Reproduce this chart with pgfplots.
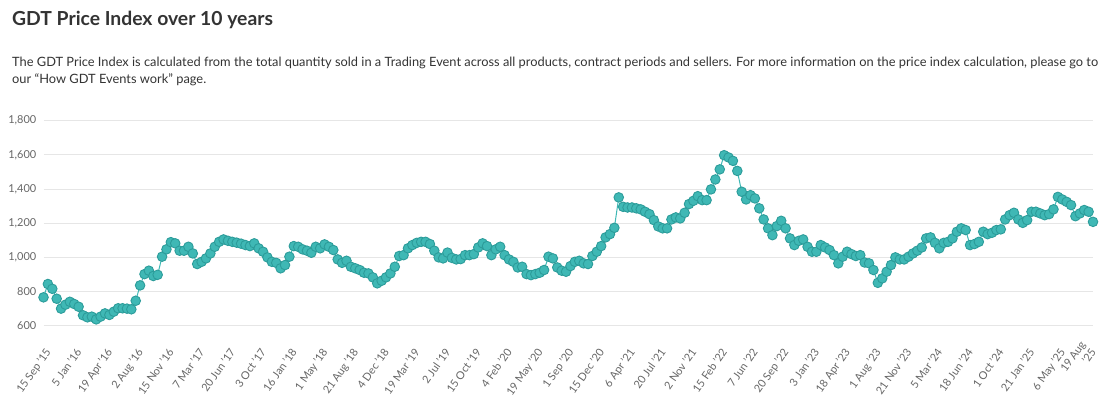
\documentclass[border=0pt]{standalone}
\usepackage{fontspec}
\setmainfont{Lato}
\usepackage{pgfplots}
\pgfplotsset{compat=1.18}
\usepackage{pgfplotstable}
\definecolor{tealfill}{HTML}{3FB8B5}
\definecolor{tealdraw}{HTML}{2C9C9A}
\definecolor{gridc}{HTML}{E6E6E6}
\definecolor{lab}{HTML}{666666}
\definecolor{txt}{HTML}{333333}

\pgfplotstableread{
i v
0 766
1 844
2 816
3 758
4 700
5 723
6 740
7 727
8 711
9 661
10 649
11 653
12 637
13 653
14 672
15 663
16 682
17 702
18 702
19 700
20 696
21 746
22 836
23 902
24 922
25 891
26 898
27 1004
28 1047
29 1089
30 1082
31 1039
32 1039
33 1062
34 1023
35 961
36 974
37 994
38 1023
39 1062
40 1091
41 1105
42 1097
43 1091
44 1086
45 1080
46 1072
47 1066
48 1082
49 1053
50 1033
51 1000
52 974
53 968
54 936
55 955
56 1004
57 1066
58 1062
59 1047
60 1039
61 1027
62 1062
63 1053
64 1076
65 1062
66 1043
67 988
68 968
69 980
70 945
71 936
72 926
73 910
74 906
75 883
76 848
77 863
78 883
79 906
80 945
81 1008
82 1013
83 1053
84 1072
85 1085
86 1091
87 1091
88 1078
89 1039
90 1000
91 994
92 1028
93 997
94 988
95 990
96 1013
97 1013
98 1019
99 1058
100 1082
101 1066
102 1013
103 1047
104 1062
105 1013
106 988
107 974
108 941
109 945
110 902
111 896
112 902
113 910
114 926
115 1004
116 994
117 941
118 922
119 916
120 949
121 974
122 980
123 965
124 961
125 1008
126 1033
127 1066
128 1117
129 1136
130 1173
131 1351
132 1296
133 1292
134 1292
135 1287
136 1281
137 1267
138 1253
139 1218
140 1181
141 1170
142 1170
143 1222
144 1234
145 1228
146 1261
147 1312
148 1331
149 1358
150 1335
151 1335
152 1398
153 1456
154 1515
155 1598
156 1585
157 1565
158 1506
159 1384
160 1339
161 1364
162 1345
163 1287
164 1222
165 1170
166 1130
167 1183
168 1214
169 1170
170 1111
171 1072
172 1097
173 1105
174 1062
175 1033
176 1033
177 1072
178 1058
179 1043
180 1013
181 965
182 1004
183 1033
184 1019
185 1008
186 1013
187 970
188 965
189 926
190 851
191 877
192 916
193 955
194 1000
195 988
196 988
197 1004
198 1023
199 1039
200 1058
201 1111
202 1117
203 1085
204 1053
205 1085
206 1091
207 1111
208 1150
209 1170
210 1160
211 1072
212 1078
213 1091
214 1150
215 1136
216 1144
217 1160
218 1164
219 1222
220 1247
221 1261
222 1222
223 1202
224 1218
225 1267
226 1267
227 1257
228 1247
229 1253
230 1281
231 1354
232 1339
233 1325
234 1306
235 1241
236 1257
237 1277
238 1267
239 1208
}\gdt

\begin{document}
\begin{tikzpicture}
\begin{axis}[
  at={(43.5bp,73.3bp)}, anchor=south west,
  scale only axis, width=1049.5bp, height=205bp,
  xmin=0, xmax=239, ymin=600, ymax=1800,
  clip=false,
  axis line style={draw=none},
  major tick length=0pt,
  ytick={600,800,1000,1200,1400,1600,1800},
  ymajorgrids, grid style={gridc, line width=1bp},
  yticklabel style={font=\fontsize{11}{13}\selectfont, text=lab, anchor=east, inner sep=0pt, xshift=-7bp},
  xtick={0,7,...,238},
  xticklabels={15 Sep '15,5 Jan '16,19 Apr '16,2 Aug '16,15 Nov '16,7 Mar '17,20 Jun '17,3 Oct '17,16 Jan '18,1 May '18,21 Aug '18,4 Dec '18,19 Mar '19,2 Jul '19,15 Oct '19,4 Feb '20,19 May '20,1 Sep '20,15 Dec '20,6 Apr '21,20 Jul '21,2 Nov '21,15 Feb '22,7 Jun '22,20 Sep '22,3 Jan '23,18 Apr '23,1 Aug '23,21 Nov '23,5 Mar '24,18 Jun '24,1 Oct '24,21 Jan '25,6 May '25,{19 Aug\\'25}},
  xticklabel style={font=\fontsize{11}{13}\selectfont, text=lab, align=right, inner sep=0pt, xshift=8bp, yshift=-26bp, rotate=55, anchor=base east},
  /pgf/number format/1000 sep={,},
  /pgf/number format/assume math mode=true,
]
\addplot[color=tealfill, line width=1bp, mark=*, mark size=4.8bp,
  mark options={fill=tealfill, draw=tealdraw, line width=0.9bp}] table[x=i, y=v] {\gdt};
\end{axis}
\node[anchor=base west, inner sep=0pt, text=txt, font=\fontsize{19.4}{23}\selectfont\bfseries] at (12bp,373bp) {GDT Price Index over 10 years};
\node[anchor=base west, inner sep=0pt, text=txt, font=\fontsize{12.88}{15}\selectfont] at (12bp,332.5bp) {The GDT Price Index is calculated from the total quantity sold in a Trading Event across all products, contract periods and sellers. For more information on the price index calculation, please go to};
\node[anchor=base west, inner sep=0pt, text=txt, font=\fontsize{12.88}{15}\selectfont] at (12bp,315bp) {our “How GDT Events work” page.};
\path (0bp,0bp) rectangle (1112bp,399bp);
\end{tikzpicture}
\end{document}
